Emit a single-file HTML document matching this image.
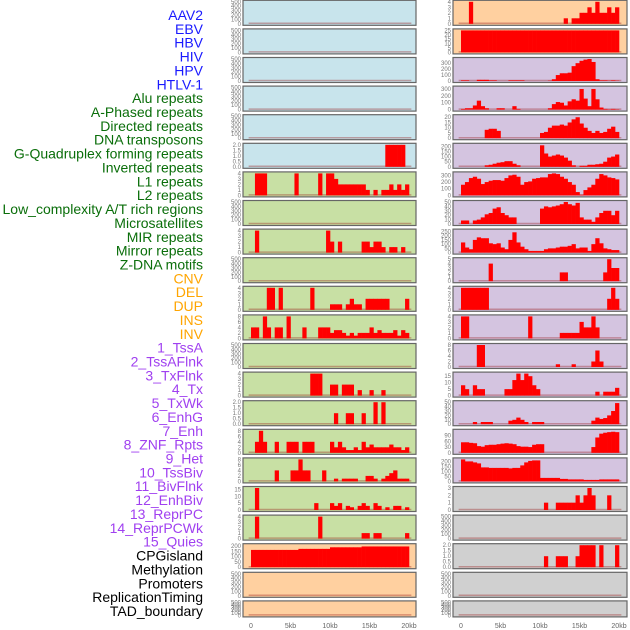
<!DOCTYPE html>
<html><head><meta charset="utf-8"><style>
html,body{margin:0;padding:0;background:#fff;}
svg{display:block;font-family:"Liberation Sans",sans-serif;}
</style></head><body>
<svg id="chart" width="630" height="630" viewBox="0 0 630 630"></svg>
<script>
const trackLabels=["AAV2","EBV","HBV","HIV","HPV","HTLV-1","Alu repeats","A-Phased repeats","Directed repeats","DNA transposons","G-Quadruplex forming repeats","Inverted repeats","L1 repeats","L2 repeats","Low_complexity A/T rich regions","Microsatellites","MIR repeats","Mirror repeats","Z-DNA motifs","CNV","DEL","DUP","INS","INV","1_TssA","2_TssAFlnk","3_TxFlnk","4_Tx","5_TxWk","6_EnhG","7_Enh","8_ZNF_Rpts","9_Het","10_TssBiv","11_BivFlnk","12_EnhBiv","13_ReprPC","14_ReprPCWk","15_Quies","CPGisland","Methylation","Promoters","ReplicationTiming","TAD_boundary"];
const xTickLabels=["0","5kb","10kb","15kb","20kb"];
const xTickValues=[0,5,10,15,20];
const leftBg=["#c8e4ec","#c8e4ec","#c8e4ec","#c8e4ec","#c8e4ec","#c8e4ec","#c8e0a4","#c8e0a4","#c8e0a4","#c8e0a4","#c8e0a4","#c8e0a4","#c8e0a4","#c8e0a4","#c8e0a4","#c8e0a4","#c8e0a4","#c8e0a4","#c8e0a4","#ffd0a0","#ffd0a0","#ffd0a0"];
const rightBg=["#ffd0a0","#ffd0a0","#d4c4e0","#d4c4e0","#d4c4e0","#d4c4e0","#d4c4e0","#d4c4e0","#d4c4e0","#d4c4e0","#d4c4e0","#d4c4e0","#d4c4e0","#d4c4e0","#d4c4e0","#d4c4e0","#d4c4e0","#d0d0d0","#d0d0d0","#d0d0d0","#d0d0d0","#d0d0d0"];
const E=[];
const T500=[0,100,200,300,400,500];
const L5=[0,0,0,0,0,0,0,0,0,0,0,0,0,0,0,0,0,0,0,0,0,0,0,0,0,0,0,0,0,0,0,0,0,0,2,2,2,2,2,0];
const L6=[0,4,4,4,0,0,0,0,0,0,0,4,0,0,0,0,0,4,0,4,4,3,2,2,2,2,2,2,2,1,0,1,0,1,1,2,1,2,1,2];
const L8=[0,4,0,0,0,0,0,0,0,0,0,0,0,0,0,0,0,0,0,4,2,0,2,0,0,0,0,0,2,2,1,2,2,1,0,1,1,0,1,0];
const L10=[0,0,0,0,4,4,0,4,0,0,0,0,0,0,0,4,0,0,0,0,1,1,1,0,1,2,1,1,0,2,2,2,2,2,2,0,0,0,0,2];
const L11=[4,4,0,8,4,0,4,4,0,8,0,0,0,4,0,0,0,4,4,4,2,3,3,2,1,2,1,2,2,2,4,2,3,2,2,2,3,1,3,2];
const L13=[0,0,0,0,0,0,0,0,0,0,0,0,0,0,0,4,4,4,0,0,2,2,0,2,2,2,0,1,0,0,1,0,0,1,0,0,0,0,0,0];
const L14=[0,0,0,0,0,0,0,0,0,0,0,0,0,0,0,0,0,0,0,0,0,1,0,0,1,1,0,0,1,0,0,2,0,2,0,0,0,0,0,0];
const L15=[0,4,8,4,0,0,4,0,0,4,4,4,0,4,4,4,0,0,0,0,4,2,4,2,1,1,2,1,4,2,3,2,2,2,2,3,2,2,1,2];
const L16=[0,0,0,0,0,0,4,0,0,0,4,4,8,4,4,0,0,0,4,0,0,1,0,1,1,1,1,0,0,2,2,1,0,1,2,3,4,1,1,1];
const L17=[0,16,0,0,0,0,0,0,0,0,0,0,0,0,0,0,5,0,0,0,5,3,5,0,3,2,0,3,5,3,0,5,3,0,2,0,3,3,0,2];
const L18=[0,4,0,0,0,0,0,0,0,0,0,0,0,0,0,0,0,4,0,0,0,0,0,0,0,0,0,0,1,1,0,1,1,0,0,0,0,0,0,1];
const L19=[165,165,165,165,165,165,165,165,165,165,165,165,175,175,175,175,175,175,175,175,190,190,190,190,190,190,190,190,198,198,198,198,198,198,198,198,198,198,198,198];
const R0=[0,0,4,0,0,0,0,0,0,0,0,0,0,0,0,0,0,0,0,0,0,0,0,0,0,0,1,0,1,1,2,2,3,2,4,2,2,3,2,3];
const R1=[25,25,25,25,25,25,25,25,25,25,25,25,25,25,25,25,25,25,25,25,25,25,25,25,25,25,25,25,25,25,25,25,25,25,25,25,25,25,25,25];
const R2=[10,10,0,0,20,20,20,10,10,0,0,0,10,10,10,10,0,0,0,0,0,0,5,30,100,130,130,140,250,300,340,360,370,320,30,10,10,5,10,5];
const R3=[10,20,20,60,130,50,20,0,0,20,20,0,0,50,10,0,0,0,0,0,0,0,20,80,110,100,60,120,150,130,300,160,50,300,150,30,10,5,10,5];
const R4=[0,0,0,0,0,0,8,9,9,7,0,0,0,0,0,0,0,0,0,0,5,6,10,12,12,13,12,15,18,20,14,10,7,5,7,5,6,9,11,6];
const R5=[0,0,0,0,0,0,15,20,30,40,45,55,55,30,15,0,0,0,0,0,210,130,100,110,120,110,90,60,15,0,10,10,20,20,25,30,50,90,100,120];
const R6=[160,200,260,280,250,170,200,220,230,230,220,260,300,310,280,160,200,210,250,260,270,270,320,330,320,280,250,200,160,50,10,80,120,160,250,320,300,270,260,240];
const R7=[8,8,0,8,10,15,22,25,35,38,25,20,15,15,0,0,0,0,0,0,35,40,38,40,42,45,50,45,42,48,15,10,10,5,15,25,30,30,20,30];
const R8=[120,60,40,150,180,170,170,110,100,110,60,40,150,240,120,70,40,20,20,20,20,40,50,50,60,70,70,80,100,50,60,60,20,100,170,110,50,40,30,30];
const R9=[0,0,0,0,0,0,0,4,0,0,0,0,0,0,0,0,0,0,0,0,0,0,0,0,0,2,2,0,0,0,0,0,0,0,0,0,2,5,3,3];
const R10=[4,4,4,4,4,4,4,0,0,0,0,0,0,0,0,0,0,0,0,0,0,0,0,0,0,0,0,0,0,0,0,0,0,0,0,0,0,2,4,2];
const R11=[4,4,0,0,0,0,0,0,0,0,0,0,0,0,0,0,0,4,0,0,0,0,0,0,0,1,1,1,1,1,3,2,2,4,2,0,0,0,0,0];
const R12=[0,0,0,0,8,8,0,0,0,0,0,0,0,0,0,0,0,0,0,0,0,0,0,0,1,0,0,0,1,0,0,0,0,2,6,2,0,0,0,0];
const R13=[8,5,0,8,5,5,0,0,0,0,0,5,5,12,17,12,17,15,8,5,0,0,0,0,0,0,0,0,0,0,0,0,0,0,3,0,3,3,3,6];
const R14=[0,0,0,5,0,5,5,5,0,0,0,0,8,10,15,10,5,0,5,5,5,0,0,0,0,0,0,0,0,0,0,0,0,8,15,12,14,20,30,48];
const R15=[55,55,52,50,35,32,40,42,42,45,48,50,48,45,35,32,32,30,42,45,45,0,0,0,0,0,0,0,0,0,0,0,0,30,80,100,105,108,110,108];
const R16=[220,200,200,190,180,140,140,135,135,135,135,135,130,135,135,160,190,205,210,210,35,35,35,35,35,25,25,20,20,20,20,15,15,15,15,20,20,20,20,20];
const R17=[0,0,0,0,0,0,0,0,0,0,0,0,0,0,0,0,0,0,0,0,0,1,0,0,1,1,1,1,1,2,1,2,3,2,0,0,0,2,0,0];
const R19=[0,0,0,0,0,0,0,0,0,0,0,0,0,0,0,0,0,0,0,0,0,1,0,0,1,1,1,0,0,1,2,2,2,2,0,2,0,0,0,2];
const leftData=[E,E,E,E,E,L5,L6,E,L8,E,L10,L11,E,L13,L14,L15,L16,L17,L18,L19,E,E];
const rightData=[R0,R1,R2,R3,R4,R5,R6,R7,R8,R9,R10,R11,R12,R13,R14,R15,R16,R17,E,R19,E,E];
const leftMax=[500,500,500,500,500,2,4,500,4,500,4,8,500,4,2,8,8,16,4,210,500,500];
const rightMax=[4,25,370,320,21,215,330,50,260,5,4,4,8,17,50,115,220,3,500,2,500,500];
const leftTicks=[T500,T500,T500,T500,T500,[0,0.5,1,1.5,2],[0,1,2,3,4],T500,[0,1,2,3,4],T500,[0,1,2,3,4],[0,2,4,6,8],T500,[0,1,2,3,4],[0,0.5,1,1.5,2],[0,2,4,6,8],[0,2,4,6,8],[0,5,10,15],[0,1,2,3,4],[0,50,100,150,200],T500,T500];
const rightTicks=[[0,1,2,3,4],[0,5,10,15,20,25],[0,100,200,300],[0,100,200,300],[0,5,10,15,20],[0,50,100,150,200],[0,100,200,300],[0,10,20,30,40,50],[0,50,100,150,200,250],[0,1,2,3,4,5],[0,1,2,3,4],[0,1,2,3,4],[0,2,4,6,8],[0,5,10,15],[0,10,20,30,40,50],[0,30,60,90],[0,50,100,150,200],[0,1,2,3],T500,[0,0.5,1,1.5,2],T500,T500];

const NS="http://www.w3.org/2000/svg";
const svg=document.getElementById('chart');
function mk(tag,attrs,parent){const e=document.createElementNS(NS,tag);for(const k in attrs)e.setAttribute(k,attrs[k]);(parent||svg).appendChild(e);return e;}
const labelColor=i=>i<6?"#1a1aff":i<19?"#0a6e0a":i<24?"#ffa500":i<39?"#a040f0":"#000";
trackLabels.forEach((t,i)=>{
  const e=mk('text',{x:203,y:20+13.86*i,'text-anchor':'end','font-size':14,fill:labelColor(i)});
  e.textContent=t;
  
  
});
const cols=[{x0:243,w:173,zero:251,bg:leftBg,data:leftData,max:leftMax,ticks:leftTicks,side:'left'},
            {x0:453,w:174,zero:461,bg:rightBg,data:rightData,max:rightMax,ticks:rightTicks,side:'right'}];
const kbPx=7.9;
function fmt(v,ticks){const dec=ticks.some(t=>t%1!==0);return dec?v.toFixed(1):String(v);}
cols.forEach(c=>{
  const xs=kb=>c.zero+kb*kbPx;
  for(let r=0;r<22;r++){
    const top=28.6*r+0.3, h=(r===21?16:25);
    const g=mk('g',{});
    
    
    const bg=mk('rect',{x:c.x0,y:top,width:c.w,height:h,fill:c.bg[r],stroke:'#666','stroke-width':1.2},g);
    
    
    const yb=top+h-1.5, yt=top+1.5;
    const ys=v=>yb-(v/c.max[r])*(yb-yt);
    const bl=mk('line',{x1:xs(-0.3),x2:xs(20.3),y1:yb-0.5,y2:yb-0.5,stroke:'rgba(150,20,20,0.35)','stroke-width':1.5},g);
    
    
    const d=c.data[r];
    d.forEach((v,k)=>{
      if(!v)return;
      const b=mk('rect',{x:xs(k*0.5),y:ys(v),width:kbPx*0.5+0.3,height:yb-ys(v),fill:'#ff0000'},g);
      
      
    });
    c.ticks[r].forEach(t=>{
      const e=mk('text',{x:c.x0-2,y:ys(t)+2,'text-anchor':'end','font-size':6,fill:'#777'},g);
      e.textContent=fmt(t,c.ticks[r]);
      
      
    });
  }
  xTickValues.forEach((v,i)=>{
    const e=mk('text',{x:xs(v),y:628,'text-anchor':'middle','font-size':7,fill:'#666'});
    e.textContent=xTickLabels[i];
    
    
  });
});
</script>
</body></html>
